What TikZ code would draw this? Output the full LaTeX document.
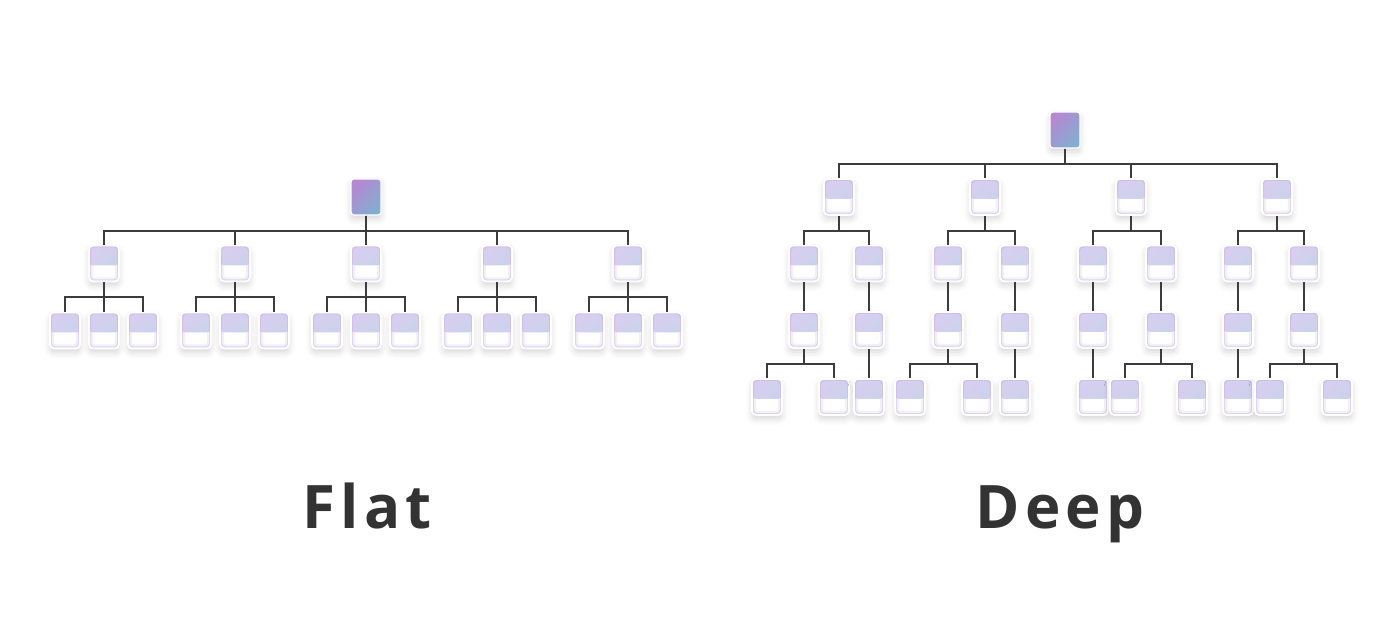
\documentclass[tikz,border=0pt]{standalone}
\usepackage{fontspec}
\usetikzlibrary{shadows.blur}
\newfontfamily\labelfont[LetterSpace=9]{Open Sans}
\definecolor{lilac}{RGB}{216,206,240}
\definecolor{haze}{RGB}{198,212,234}
\definecolor{orchid}{RGB}{180,136,210}
\definecolor{steel}{RGB}{130,174,208}
\definecolor{wire}{RGB}{60,60,60}
\definecolor{ink}{RGB}{51,51,51}
\tikzset{
  x=0.5pt,y=-0.5pt,
  card/.style={rectangle,rounded corners=2pt,minimum width=15pt,minimum height=18pt,inner sep=0pt,
    fill=white,draw=white,line width=0.8pt,
    blur shadow={shadow xshift=0pt,shadow yshift=-2pt,shadow blur radius=3pt,shadow opacity=16},
    path picture={
      \shade[top color=lilac,bottom color=haze,shading angle=45]
        (path picture bounding box.north west) rectangle ([yshift=-1pt]path picture bounding box.east);
      \draw[lilac,line width=2pt,opacity=0.3,rounded corners=2pt]
        ([shift={(1pt,1pt)}]path picture bounding box.south west) rectangle
        ([shift={(-1pt,-1pt)}]path picture bounding box.north east);
      \draw[lilac!80!violet,line width=0.6pt,opacity=0.35,rounded corners=2pt]
        ([shift={(0.7pt,0.7pt)}]path picture bounding box.south west) rectangle
        ([shift={(-0.7pt,-0.7pt)}]path picture bounding box.north east);
    }},
  root/.style={rectangle,rounded corners=1.5pt,minimum width=15pt,minimum height=18pt,inner sep=0pt,
    draw=white,line width=0.6pt,top color=orchid,bottom color=steel,shading angle=45,
    blur shadow={shadow xshift=0pt,shadow yshift=-2pt,shadow blur radius=3pt,shadow opacity=16}},
  link/.style={draw=wire,line width=1pt},
  title/.style={font=\labelfont\bfseries\fontsize{30}{36}\selectfont,text=ink,anchor=base},
}
\begin{document}
\begin{tikzpicture}
  \useasboundingbox (0,0) rectangle (1400,635);
  % flat tree
  \node[root] (f) at (366,197) {};
  \foreach \i/\x in {1/104,2/235,3/366,4/497,5/628}{
    \node[card] (f\i) at (\x,263.5) {};
    \draw[link] (f.south) -- ++(0,15) -| (f\i.north);
    \foreach \j/\d in {1/-39,2/0,3/39}{
      \node[card] (f\i\j) at (\x+\d,330.5) {};
      \draw[link] (f\i.south) -- ++(0,15) -| (f\i\j.north);
    }
  }
  \node[title] (flat) at (367,528) {Flat};
  % deep tree
  \node[root] (d) at (1065,130) {};
  \foreach \n/\x in {1/839,2/985,3/1131,4/1277}{
    \node[card] (d\n) at (\x,197) {};
    \draw[link] (d.south) -- ++(0,15) -| (d\n.north);
  }
  \foreach \p/\n/\x in {1/11/804,1/12/869,2/21/948,2/22/1015,3/31/1093,3/32/1161,4/41/1238,4/42/1304}{
    \node[card] (d\n) at (\x,263.5) {};
    \node[card] (m\n) at (\x,330) {};
    \draw[link] (d\p.south) -- ++(0,15) -| (d\n.north);
    \draw[link] (d\n) -- (m\n);
  }
  \foreach \p/\n/\x in {11/111/767,11/112/834,12/121/869,21/211/910,21/212/977,22/221/1015,
      31/311/1093,32/321/1125,32/322/1192,41/411/1238,42/421/1270,42/422/1337}{
    \node[card] (l\n) at (\x,397) {};
    \draw[link] (m\p.south) -- ++(0,15) -| (l\n.north);
  }
  \node[title] (deep) at (1060,528) {Deep};
\end{tikzpicture}
\end{document}
